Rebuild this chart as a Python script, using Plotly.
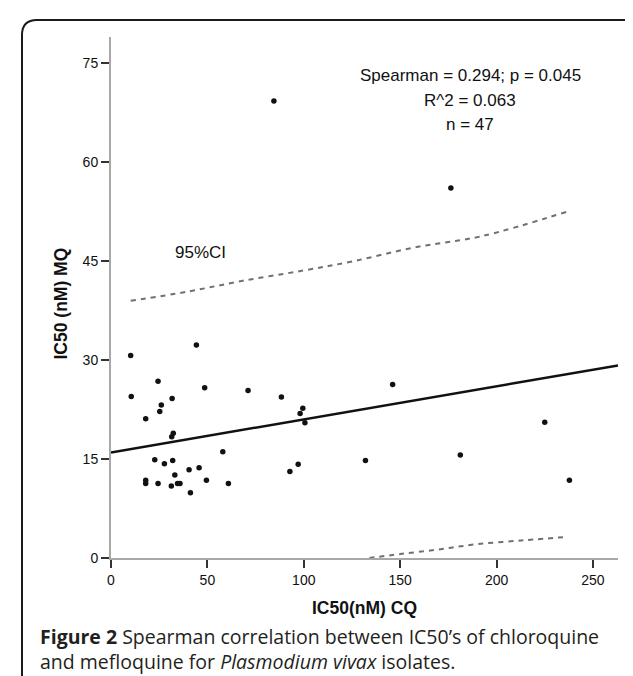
import plotly.graph_objects as go

# ---- data ----
cq = [10.2, 44.3, 24.4, 48.6, 71.1, 88.4, 10.5, 31.7, 26.1, 25.3, 18.0, 99.5, 98.1, 100.6,
      31.5, 32.3, 58.0, 22.7, 27.7, 32.0, 45.7, 40.5, 33.1, 18.0, 18.0, 24.4, 31.3, 34.5,
      35.8, 49.5, 41.2, 60.9, 97.1, 92.8, 132.0, 181.2, 225.0, 237.8, 146.1, 176.3, 84.5]
mq = [30.7, 32.3, 26.8, 25.8, 25.4, 24.4, 24.5, 24.2, 23.2, 22.2, 21.1, 22.7, 21.9, 20.5,
      18.4, 18.9, 16.1, 14.9, 14.3, 14.8, 13.7, 13.4, 12.6, 11.8, 11.3, 11.3, 10.9, 11.3,
      11.3, 11.8, 9.9, 11.3, 14.2, 13.1, 14.8, 15.6, 20.6, 11.8, 26.3, 56.1, 69.3]

fit_x = [0, 263]
fit_y = [16.0, 29.2]

ci_up_x = [10.2, 40, 67.7, 100, 125.6, 157.6, 192.3, 236.4]
ci_up_y = [39.0, 40.4, 42.0, 43.6, 45.0, 47.1, 48.8, 52.5]
ci_lo_x = [134.0, 150.0, 170.0, 190.0, 215.0, 236.4]
ci_lo_y = [0.0, 0.6, 1.3, 2.1, 2.7, 3.2]

x_ticks = [0, 50, 100, 150, 200, 250]
y_ticks = [0, 15, 30, 45, 60, 75]

stats_lines = ["Spearman = 0.294; p = 0.045", "R^2 = 0.063", "n = 47"]
stats_y = [73.1, 69.4, 65.8]
stats_x = 186.4

caption_lines = ["<b>Figure 2</b> Spearman correlation between IC50\u2019s of chloroquine",
                 "and mefloquine for <i>Plasmodium vivax</i> isolates."]

# ---- layout geometry ----
W, H = 633, 676
L, R, T, B = 103, 23, 29, 126
pw = W - L - R
ph = H - T - B

def px2paper_x(px):
    return (px - L) / pw

def px2paper_y(py):
    return (H - B - py) / ph

fig = go.Figure()

ci_style = dict(color="#707070", width=2, dash="5px,5px")
fig.add_trace(go.Scatter(x=ci_up_x, y=ci_up_y, mode="lines", line=ci_style,
                         line_shape="spline", hoverinfo="skip"))
fig.add_trace(go.Scatter(x=ci_lo_x, y=ci_lo_y, mode="lines", line=ci_style,
                         line_shape="spline", hoverinfo="skip"))
fig.add_trace(go.Scatter(x=fit_x, y=fit_y, mode="lines",
                         line=dict(color="#111111", width=2.5), hoverinfo="skip"))
fig.add_trace(go.Scatter(x=cq, y=mq, mode="markers",
                         marker=dict(color="#111111", size=5.5)))

tickfont = dict(family="Liberation Sans, Arial, sans-serif", size=14, color="#111111")
fig.update_xaxes(range=[0, 263], tickvals=x_ticks, showline=True, linecolor="#a8a8a8",
                 linewidth=2, ticks="outside", ticklen=8, tickwidth=2, tickcolor="#333333",
                 showgrid=False, zeroline=False, tickfont=tickfont, fixedrange=True)
fig.update_yaxes(range=[0, 79], tickvals=y_ticks, showline=True, linecolor="#a8a8a8",
                 linewidth=2, ticks="outside", ticklen=8, tickwidth=2, tickcolor="#333333",
                 showgrid=False, zeroline=False, tickfont=tickfont, fixedrange=True)

annots = []
for txt, yy in zip(stats_lines, stats_y):
    annots.append(dict(x=stats_x, y=yy, xref="x", yref="y", text=txt, showarrow=False,
                       xanchor="center", yanchor="middle",
                       font=dict(family="Liberation Sans, Arial, sans-serif", size=17,
                                 color="#111111")))
annots.append(dict(x=46.5, y=46.3, xref="x", yref="y", text="95%CI", showarrow=False,
                   xanchor="center", yanchor="middle",
                   font=dict(family="Liberation Sans, Arial, sans-serif", size=17,
                             color="#111111")))
# axis titles
annots.append(dict(x=0, y=0.5, xref="paper", yref="paper", xshift=-51, yshift=-6,
                   text="<b>IC50 (nM) MQ</b>", textangle=-90, showarrow=False,
                   xanchor="center", yanchor="middle",
                   font=dict(family="Liberation Sans, Arial, sans-serif", size=17.5,
                             color="#111111")))
annots.append(dict(x=0.5, y=0, xref="paper", yref="paper", yshift=-50,
                   text="<b>IC50(nM) CQ</b>", showarrow=False,
                   xanchor="center", yanchor="middle",
                   font=dict(family="Liberation Sans, Arial, sans-serif", size=17.5,
                             color="#111111")))
# caption (one block, two lines)
cap_font = dict(family="Open Sans, Noto Sans, sans-serif", size=19.5, color="#231f20")
annots.append(dict(x=px2paper_x(30), y=px2paper_y(641), xref="paper", yref="paper",
                   text="<br>".join(caption_lines), align="left",
                   showarrow=False, xanchor="left", yanchor="middle", font=cap_font))

# rounded frame
x0 = px2paper_x(14); y0 = px2paper_y(12)
x1 = px2paper_x(720); y1 = px2paper_y(720)
rx = 15 / pw; ry = 15 / ph
path = (f"M {x0},{y1} L {x0},{y0 - ry} Q {x0},{y0} {x0 + rx},{y0} L {x1},{y0}")

fig.update_layout(
    width=W, height=H, margin=dict(l=L, r=R, t=T, b=B, autoexpand=False),
    paper_bgcolor="white", plot_bgcolor="white", showlegend=False,
    annotations=annots,
    shapes=[dict(type="path", path=path, xref="paper", yref="paper",
                 line=dict(color="#1a1a1a", width=2), layer="below")],
)

fig.write_html("out.html", config={"displayModeBar": False})
